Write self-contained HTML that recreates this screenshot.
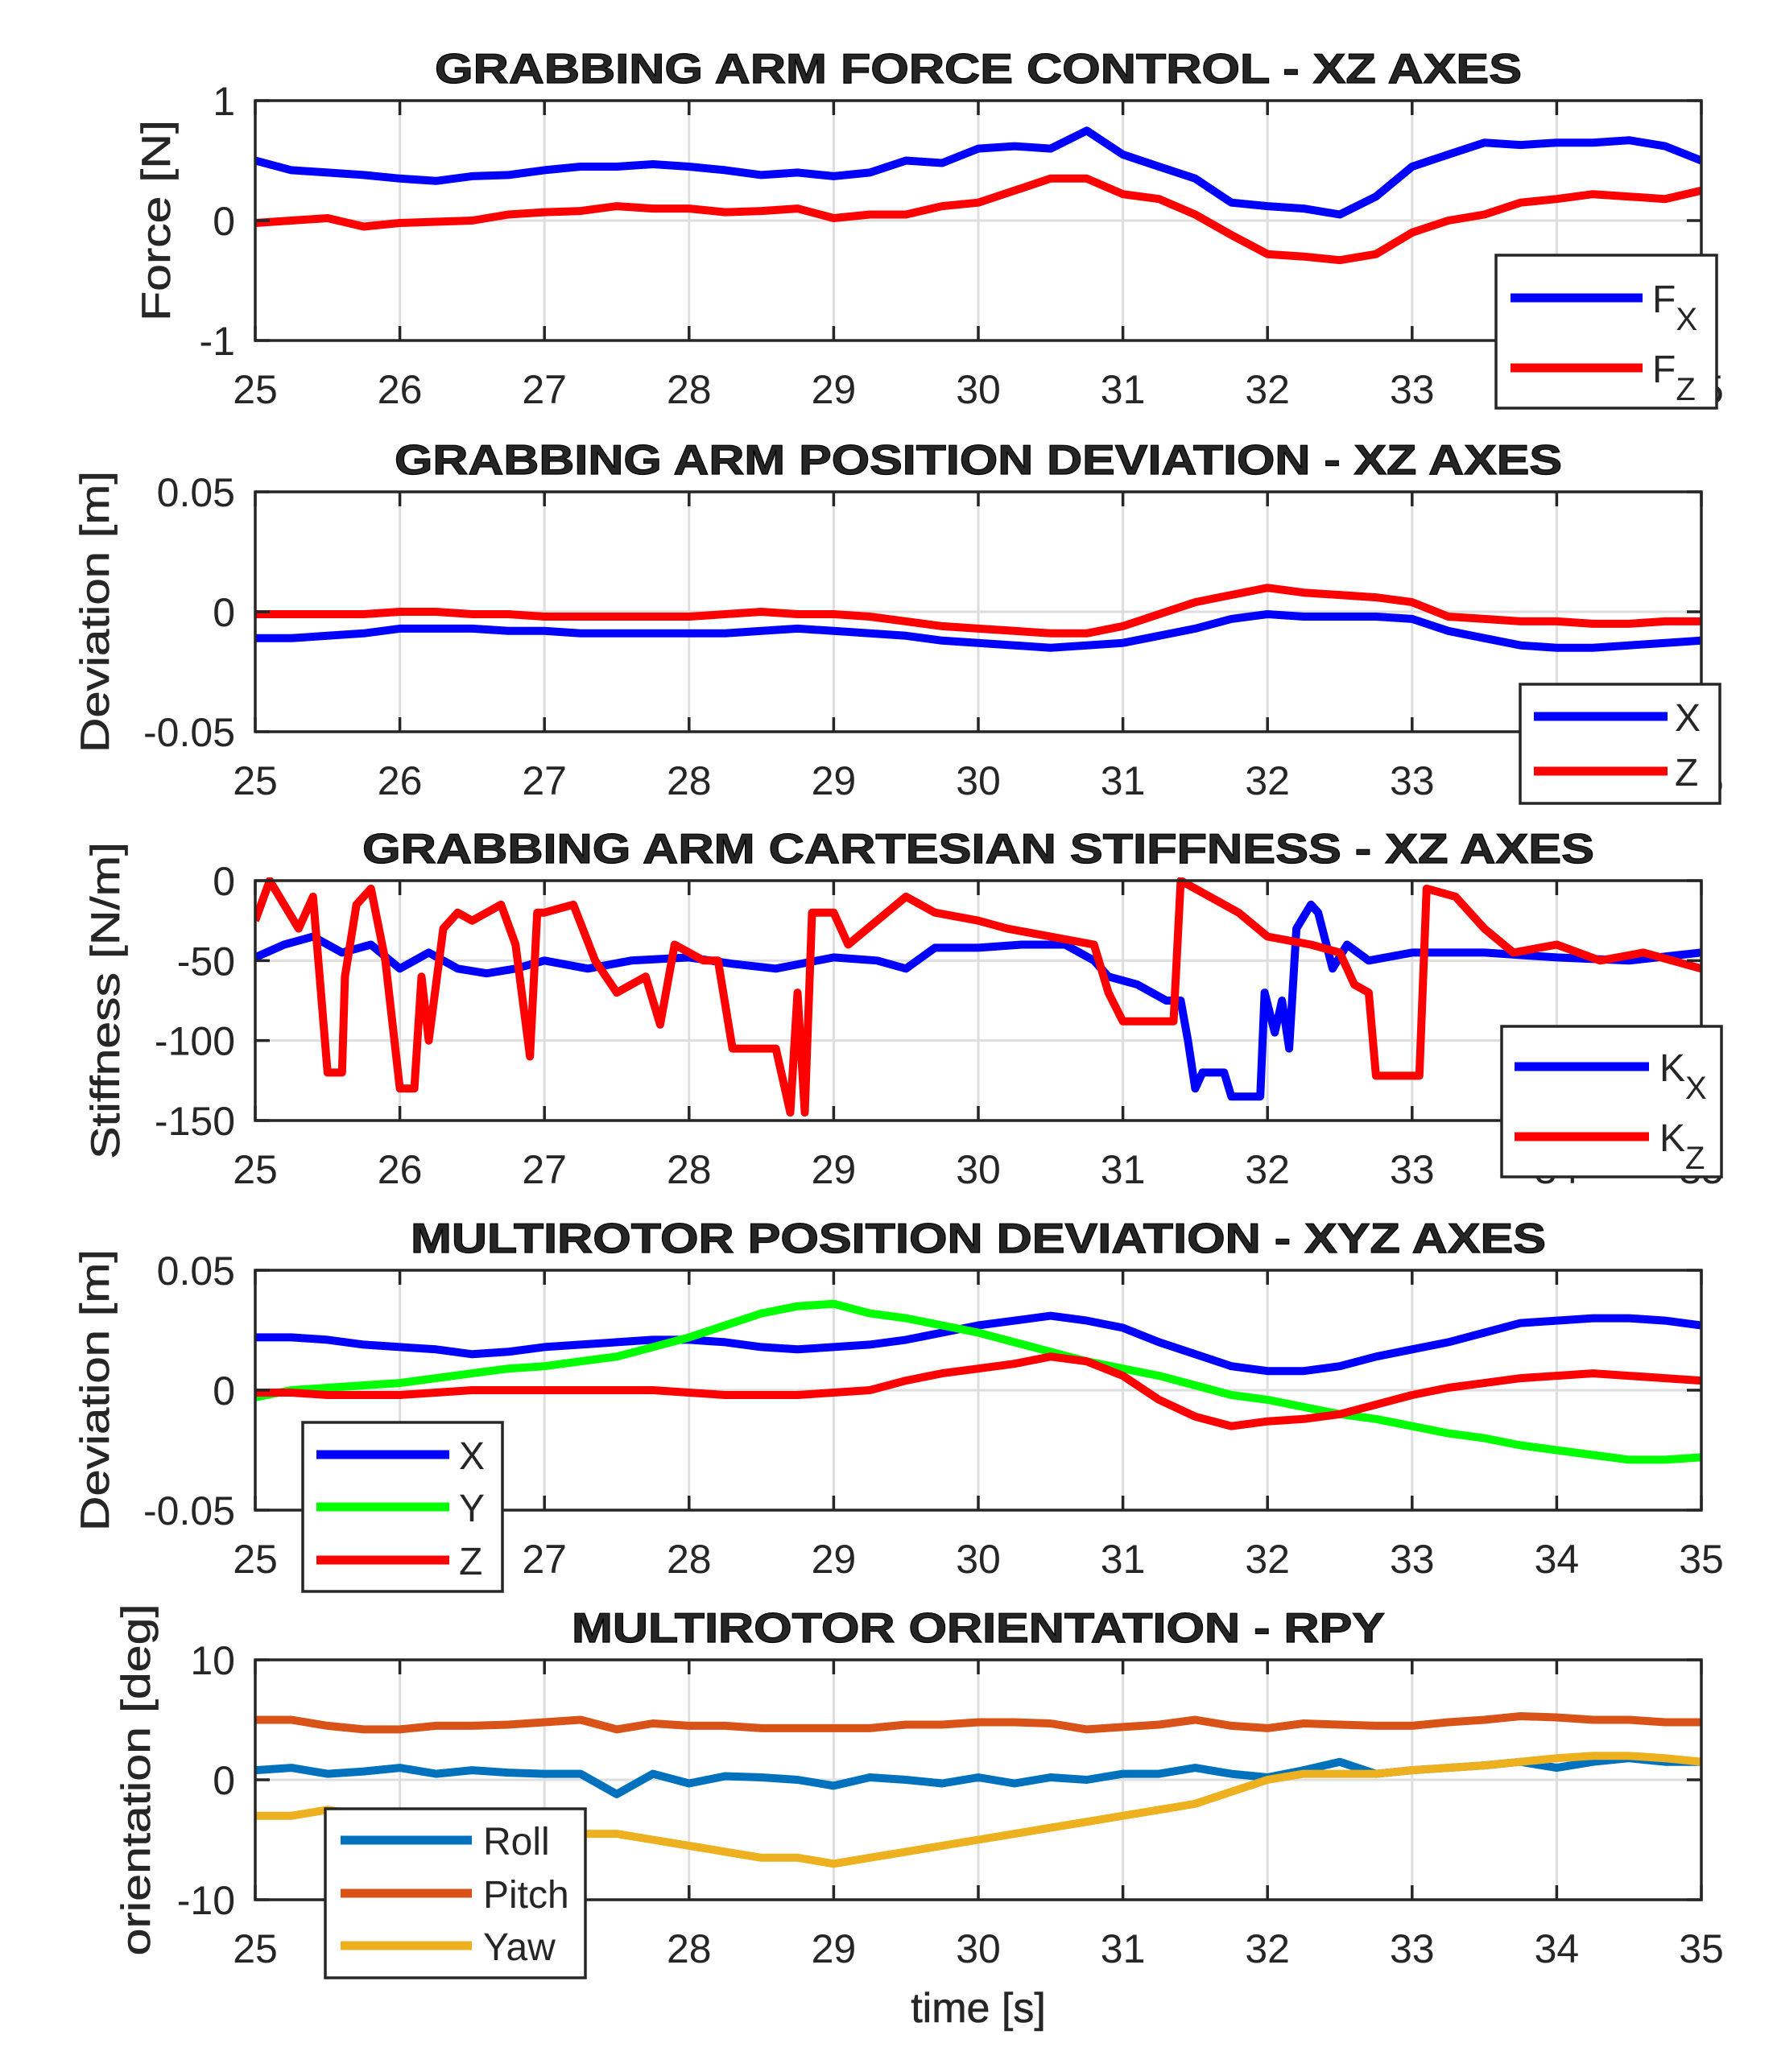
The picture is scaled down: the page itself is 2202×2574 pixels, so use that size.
<!DOCTYPE html>
<html><head><meta charset="utf-8"><style>
html,body{margin:0;padding:0;background:#fff}
svg{display:block}
text{font-family:"Liberation Sans",Arial,sans-serif;fill:#262626}
</style></head><body>
<svg id="fig" xmlns="http://www.w3.org/2000/svg" width="2202" height="2574" viewBox="0 0 2202 2574"></svg>
<script>
const T = [25,25.25,25.5,25.75,26,26.25,26.5,26.75,27,27.25,27.5,27.75,28,28.25,28.5,28.75,29,29.25,29.5,29.75,30,30.25,30.5,30.75,31,31.25,31.5,31.75,32,32.25,32.5,32.75,33,33.25,33.5,33.75,34,34.25,34.5,34.75,35];
const xTicks = [25,26,27,28,29,30,31,32,33,34,35];
// Panel 1
const fx = [0.5,0.42,0.4,0.38,0.35,0.33,0.37,0.38,0.42,0.45,0.45,0.47,0.45,0.42,0.38,0.4,0.37,0.4,0.5,0.48,0.6,0.62,0.6,0.75,0.55,0.45,0.35,0.15,0.12,0.1,0.05,0.2,0.45,0.55,0.65,0.63,0.65,0.65,0.67,0.62,0.5];
const fz = [-0.02,0,0.02,-0.05,-0.02,-0.01,0,0.05,0.07,0.08,0.12,0.1,0.1,0.07,0.08,0.1,0.02,0.05,0.05,0.12,0.15,0.25,0.35,0.35,0.22,0.18,0.05,-0.12,-0.28,-0.3,-0.33,-0.28,-0.1,0,0.05,0.15,0.18,0.22,0.2,0.18,0.25];
const p1Ticks = [-1,0,1];
// Panel 2
const dx = [-0.011,-0.011,-0.01,-0.009,-0.007,-0.007,-0.007,-0.008,-0.008,-0.009,-0.009,-0.009,-0.009,-0.009,-0.008,-0.007,-0.008,-0.009,-0.01,-0.012,-0.013,-0.014,-0.015,-0.014,-0.013,-0.01,-0.007,-0.003,-0.001,-0.002,-0.002,-0.002,-0.003,-0.008,-0.011,-0.014,-0.015,-0.015,-0.014,-0.013,-0.012];
const dz = [-0.001,-0.001,-0.001,-0.001,0,0,-0.001,-0.001,-0.002,-0.002,-0.002,-0.002,-0.002,-0.001,0,-0.001,-0.001,-0.002,-0.004,-0.006,-0.007,-0.008,-0.009,-0.009,-0.006,-0.001,0.004,0.007,0.01,0.008,0.007,0.006,0.004,-0.002,-0.003,-0.004,-0.004,-0.005,-0.005,-0.004,-0.004];
const devTicks = [-0.05,0,0.05];
const devTickLabels = ["-0.05","0","0.05"];
// Panel 3
const kxT = [25,25.2,25.4,25.6,25.8,26,26.2,26.4,26.6,26.8,27,27.3,27.6,28,28.3,28.6,29,29.3,29.5,29.7,30,30.3,30.6,30.8,30.9,31.1,31.3,31.4,31.45,31.5,31.55,31.7,31.75,31.95,31.98,32.05,32.1,32.15,32.2,32.3,32.35,32.45,32.55,32.7,33,33.5,34,34.5,35];
const kxV = [-48,-40,-35,-45,-40,-55,-45,-55,-58,-55,-50,-55,-50,-48,-52,-55,-48,-50,-55,-42,-42,-40,-40,-50,-60,-65,-75,-75,-100,-130,-120,-120,-135,-135,-70,-95,-75,-105,-30,-15,-20,-55,-40,-50,-45,-45,-48,-50,-45];
const kzT = [25,25.1,25.2,25.3,25.4,25.5,25.6,25.62,25.7,25.8,25.9,26,26.1,26.15,26.2,26.3,26.4,26.5,26.6,26.7,26.8,26.9,26.95,27,27.2,27.35,27.5,27.7,27.8,27.9,28.1,28.2,28.3,28.5,28.6,28.7,28.75,28.8,28.85,29,29.1,29.3,29.5,29.7,30,30.2,30.5,30.8,30.9,31,31.35,31.4,31.6,31.8,32,32.3,32.5,32.6,32.7,32.75,33.05,33.1,33.3,33.5,33.7,34,34.3,34.6,35];
const kzV = [-25,0,-15,-30,-10,-120,-120,-60,-15,-5,-50,-130,-130,-60,-100,-30,-20,-25,-20,-15,-40,-110,-20,-20,-15,-50,-70,-60,-90,-40,-50,-50,-105,-105,-105,-145,-70,-145,-20,-20,-40,-25,-10,-20,-25,-30,-35,-40,-70,-88,-88,0,-10,-20,-35,-40,-45,-65,-70,-122,-122,-5,-10,-30,-45,-40,-50,-45,-55];
const kTicks = [-150,-100,-50,0];
// Panel 4
const mx = [0.022,0.022,0.021,0.019,0.018,0.017,0.015,0.016,0.018,0.019,0.02,0.021,0.021,0.02,0.018,0.017,0.018,0.019,0.021,0.024,0.027,0.029,0.031,0.029,0.026,0.02,0.015,0.01,0.008,0.008,0.01,0.014,0.017,0.02,0.024,0.028,0.029,0.03,0.03,0.029,0.027];
const my = [-0.003,0,0.001,0.002,0.003,0.005,0.007,0.009,0.01,0.012,0.014,0.018,0.022,0.027,0.032,0.035,0.036,0.032,0.03,0.027,0.024,0.02,0.016,0.012,0.009,0.006,0.002,-0.002,-0.004,-0.007,-0.01,-0.012,-0.015,-0.018,-0.02,-0.023,-0.025,-0.027,-0.029,-0.029,-0.028];
const mz = [-0.001,-0.001,-0.002,-0.002,-0.002,-0.001,0,0,0,0,0,0,-0.001,-0.002,-0.002,-0.002,-0.001,0,0.004,0.007,0.009,0.011,0.014,0.012,0.006,-0.004,-0.011,-0.015,-0.013,-0.012,-0.01,-0.006,-0.002,0.001,0.003,0.005,0.006,0.007,0.006,0.005,0.004];
// Panel 5
const roll = [0.8,1,0.5,0.7,1,0.5,0.8,0.6,0.5,0.5,-1.2,0.5,-0.3,0.3,0.2,0,-0.5,0.2,0,-0.3,0.2,-0.3,0.2,0,0.5,0.5,1,0.5,0.2,0.8,1.5,0.5,0.8,1,1.2,1.5,1,1.5,1.8,1.5,1.5];
const pitch = [5,5,4.5,4.2,4.2,4.5,4.5,4.6,4.8,5,4.2,4.7,4.5,4.5,4.3,4.3,4.3,4.3,4.6,4.6,4.8,4.8,4.7,4.2,4.4,4.6,5,4.5,4.3,4.7,4.6,4.5,4.5,4.8,5,5.3,5.2,5,5,4.8,4.8];
const yaw = [-3,-3,-2.5,-3,-3.5,-4,-4.5,-4.5,-4.5,-4.5,-4.5,-5,-5.5,-6,-6.5,-6.5,-7,-6.5,-6,-5.5,-5,-4.5,-4,-3.5,-3,-2.5,-2,-1,0,0.5,0.5,0.5,0.8,1,1.2,1.5,1.8,2,2,1.8,1.5];
const oTicks = [-10,0,10];

const NS = "http://www.w3.org/2000/svg";
const svg = document.getElementById('fig');
const L = 317, R = 2113, H = 298;
function el(tag, attrs, parent) {
  const e = document.createElementNS(NS, tag);
  for (const k in attrs) e.setAttribute(k, attrs[k]);
  (parent || svg).appendChild(e);
  return e;
}
function xs(t) { return L + (t - 25) / 10 * (R - L); }

function panel(o) {
  const g = el('g', {});
  
  
  const top = o.top, bot = top + H;
  const ys = v => bot - (v - o.ymin) / (o.ymax - o.ymin) * H;
  xTicks.forEach(t => {
    const l = el('line', {x1: xs(t), x2: xs(t), y1: top, y2: bot, stroke: '#dedede', 'stroke-width': 3}, g);
    
    
  });
  o.yticks.forEach(v => {
    const l = el('line', {x1: L, x2: R, y1: ys(v), y2: ys(v), stroke: '#dedede', 'stroke-width': 3}, g);
    
    
  });
  const cid = 'clip' + o.name;
  const cp = el('clipPath', {id: cid}, g);
  el('rect', {x: L, y: top - 4, width: R - L, height: H + 8}, cp);
  o.series.forEach(s => {
    const tt = s.t || T;
    let d = '';
    tt.forEach((t, i) => { d += (i ? 'L' : 'M') + xs(t).toFixed(1) + ',' + ys(s.v[i]).toFixed(1); });
    const p = el('path', {d: d, fill: 'none', stroke: s.color, 'stroke-width': 10, 'stroke-linejoin': 'round', 'clip-path': 'url(#' + cid + ')'}, g);
    
    
  });
  const box = el('rect', {x: L, y: top, width: R - L, height: H, fill: 'none', stroke: '#262626', 'stroke-width': 3.5}, g);
  
  
  xTicks.forEach(t => {
    el('line', {x1: xs(t), x2: xs(t), y1: bot, y2: bot - 18, stroke: '#262626', 'stroke-width': 3.5}, g);
    el('line', {x1: xs(t), x2: xs(t), y1: top, y2: top + 18, stroke: '#262626', 'stroke-width': 3.5}, g);
    const tx = el('text', {x: xs(t), y: bot + 78, 'font-size': 50, 'text-anchor': 'middle'}, g);
    tx.textContent = t;
    
    
  });
  o.yticks.forEach((v, i) => {
    el('line', {x1: L, x2: L + 18, y1: ys(v), y2: ys(v), stroke: '#262626', 'stroke-width': 3.5}, g);
    el('line', {x1: R, x2: R - 18, y1: ys(v), y2: ys(v), stroke: '#262626', 'stroke-width': 3.5}, g);
    const tx = el('text', {x: L - 25, y: ys(v) + 18, 'font-size': 50, 'text-anchor': 'end'}, g);
    tx.textContent = o.ylabels ? o.ylabels[i] : v;
    
    
  });
  const ti = el('text', {x: (L + R) / 2, y: top - 22, 'font-size': 52, 'font-weight': 'bold', 'text-anchor': 'middle', fill: '#000', stroke: '#000', 'stroke-width': 1.2, textLength: o.tlen, lengthAdjust: 'spacingAndGlyphs'}, g);
  ti.textContent = o.title;
  
  
  const cy = top + H / 2;
  const yl = el('text', {x: 0, y: 0, 'font-size': 50, 'text-anchor': 'middle', stroke: '#262626', 'stroke-width': 0.6, transform: 'translate(' + (o.ylx + 17) + ',' + cy + ') rotate(-90)', textLength: o.yllen, lengthAdjust: 'spacingAndGlyphs'}, g);
  yl.textContent = o.ylabel;
  
  
  const lg = o.legend;
  const lgg = el('g', {}, g);
  
  
  el('rect', {x: lg.x, y: lg.y, width: lg.w, height: lg.h, fill: '#fff', stroke: '#262626', 'stroke-width': 3.5}, lgg);
  o.series.forEach((s, i) => {
    const ly = lg.ly[i];
    const e = el('g', {}, lgg);
    
    
    el('line', {x1: lg.lx1, x2: lg.lx2, y1: ly, y2: ly, stroke: s.color, 'stroke-width': 11}, e);
    const tx = el('text', {x: lg.tx, y: ly + 18, 'font-size': 48, fill: '#000'}, e);
    tx.textContent = s.label;
    if (s.sub) {
      const ts = el('tspan', {dy: 22, 'font-size': 40}, tx);
      ts.textContent = s.sub;
    }
  });
}

panel({name: 'force-panel', top: 125, ymin: -1, ymax: 1, yticks: p1Ticks, title: 'GRABBING ARM FORCE CONTROL - XZ AXES', tlen: 1350,
  ylabel: 'Force [N]', ylx: 194, yllen: 250,
  series: [{id: 'fx', t: T, v: fx, color: '#0000ff', label: 'F', sub: 'X'}, {id: 'fz', t: T, v: fz, color: '#ff0000', label: 'F', sub: 'Z'}],
  legend: {x: 1858, y: 317, w: 274, h: 190, ly: [370, 457], lx1: 1876, lx2: 2040, tx: 2052}});
panel({name: 'arm-deviation-panel', top: 611, ymin: -0.05, ymax: 0.05, yticks: devTicks, ylabels: devTickLabels, title: 'GRABBING ARM POSITION DEVIATION - XZ AXES', tlen: 1450,
  ylabel: 'Deviation [m]', ylx: 118, yllen: 350,
  series: [{id: 'x', t: T, v: dx, color: '#0000ff', label: 'X'}, {id: 'z', t: T, v: dz, color: '#ff0000', label: 'Z'}],
  legend: {x: 1888, y: 850, w: 248, h: 148, ly: [890, 958], lx1: 1905, lx2: 2071, tx: 2080}});
panel({name: 'stiffness-panel', top: 1094, ymin: -150, ymax: 0, yticks: kTicks, title: 'GRABBING ARM CARTESIAN STIFFNESS - XZ AXES', tlen: 1530,
  ylabel: 'Stiffness [N/m]', ylx: 131, yllen: 394,
  series: [{id: 'kx', t: kxT, v: kxV, color: '#0000ff', label: 'K', sub: 'X'}, {id: 'kz', t: kzT, v: kzV, color: '#ff0000', label: 'K', sub: 'Z'}],
  legend: {x: 1865, y: 1275, w: 273, h: 187, ly: [1325, 1412], lx1: 1881, lx2: 2048, tx: 2061}});
panel({name: 'multirotor-deviation-panel', top: 1578, ymin: -0.05, ymax: 0.05, yticks: devTicks, ylabels: devTickLabels, title: 'MULTIROTOR POSITION DEVIATION - XYZ AXES', tlen: 1410,
  ylabel: 'Deviation [m]', ylx: 118, yllen: 350,
  series: [{id: 'x', t: T, v: mx, color: '#0000ff', label: 'X'}, {id: 'y', t: T, v: my, color: '#00ff00', label: 'Y'}, {id: 'z', t: T, v: mz, color: '#ff0000', label: 'Z'}],
  legend: {x: 376, y: 1767, w: 248, h: 210, ly: [1807, 1872, 1938], lx1: 393, lx2: 558, tx: 570}});
panel({name: 'orientation-panel', top: 2062, ymin: -10, ymax: 10, yticks: oTicks, title: 'MULTIROTOR ORIENTATION - RPY', tlen: 1010,
  ylabel: 'orientation [deg]', ylx: 169, yllen: 437,
  series: [{id: 'roll', t: T, v: roll, color: '#0072bd', label: 'Roll'}, {id: 'pitch', t: T, v: pitch, color: '#d95319', label: 'Pitch'}, {id: 'yaw', t: T, v: yaw, color: '#edb120', label: 'Yaw'}],
  legend: {x: 404, y: 2247, w: 323, h: 210, ly: [2286, 2352, 2417], lx1: 423, lx2: 586, tx: 600}});

const xl = el('text', {x: (L + R) / 2, y: 2512, 'font-size': 52, 'text-anchor': 'middle', stroke: '#262626', 'stroke-width': 0.6});
xl.textContent = 'time [s]';


</script>
</body></html>
